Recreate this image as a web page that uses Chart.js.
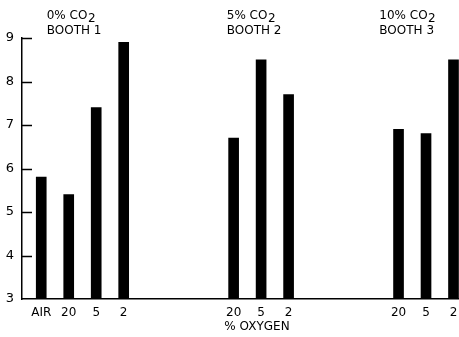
<!DOCTYPE html>
<html>
<head>
<meta charset="utf-8">
<script src="https://cdn.jsdelivr.net/npm/chart.js@4/dist/chart.umd.min.js"></script>
<style>
body{margin:0;background:#fff;overflow:hidden}
canvas{display:block}
</style>
</head>
<body>
<canvas id="grafico" width="459" height="337"></canvas>
<script>
// oxygen levels under each bar
let oxigenio=["AIR","20","5","2","20","5","2","20","5","2"]
// slot of each bar along the axis (groups are spread apart)
let posicao=[0,1,2,3,7,8,9,13,14,15]
let valores=[5.8,5.4,7.4,8.9,6.7,8.5,7.7,6.9,6.8,8.5]
let co2=["0%","5%","10%"]
let cabines=["BOOTH 1","BOOTH 2","BOOTH 3"]
let cabinePos=[0.2,6.75,12.3]
let yTicks=[3,4,5,6,7,8,9]

let fonte="'DejaVu Sans', sans-serif"

let textos={
id:"textos",
afterDraw(chart){
let ctx=chart.ctx
let x=chart.scales.x
let y=chart.scales.y
ctx.save()
ctx.strokeStyle="#000"
ctx.lineWidth=1.5
// tick marks pointing into the plot
yTicks.forEach(t=>{
if(t==3) return
let py=Math.round(y.getPixelForValue(t))+0.5
ctx.beginPath()
ctx.moveTo(x.left,py)
ctx.lineTo(x.left+10,py)
ctx.stroke()
})
ctx.fillStyle="#000"
ctx.font="12px "+fonte
ctx.textAlign="left"
ctx.textBaseline="alphabetic"
co2.forEach((c,i)=>{
let px=x.getPixelForValue(cabinePos[i])
let txt=c+" CO"
ctx.fillText(txt,px,18.5)
let w=ctx.measureText(txt).width
ctx.fillText("2",px+w+0.5,21.5)
ctx.fillText(cabines[i],px,33.5)
})
ctx.textAlign="center"
ctx.textBaseline="middle"
ctx.fillText("% OXYGEN",x.getPixelForValue(7.85),327)
ctx.restore()
}
}

let dados=posicao.map((p,i)=>({x:p,y:valores[i]}))

new Chart(document.getElementById("grafico"),{
type:"bar",
data:{datasets:[{data:dados,backgroundColor:"#000",barThickness:10}]},
options:{
responsive:false,
animation:false,
layout:{padding:{top:38,left:0,right:0,bottom:0}},
plugins:{legend:{display:false},tooltip:{enabled:false}},
scales:{
x:{
type:"linear",
min:-0.7,
max:15.2,
offset:false,
afterBuildTicks:s=>{s.ticks=posicao.map(v=>({value:v}))},
afterFit:s=>{s.height=38;s.paddingLeft=0;s.paddingRight=0},
ticks:{autoSkip:false,maxRotation:0,padding:7,color:"#000",font:{family:fonte,size:12},callback:(v,i)=>oxigenio[i]},
grid:{display:true,drawOnChartArea:false,drawTicks:false,offset:false},
border:{display:true,color:"#000",width:1.5}
},
y:{
min:3,
max:9,
afterBuildTicks:s=>{s.ticks=yTicks.map(v=>({value:v}))},
afterFit:s=>{s.width=22},
ticks:{padding:8,color:"#000",font:{family:fonte,size:13}},
grid:{display:true,drawOnChartArea:false,drawTicks:false},
border:{display:true,color:"#000",width:1.5}
}
}
},
plugins:[textos]
})
</script>
</body>
</html>
